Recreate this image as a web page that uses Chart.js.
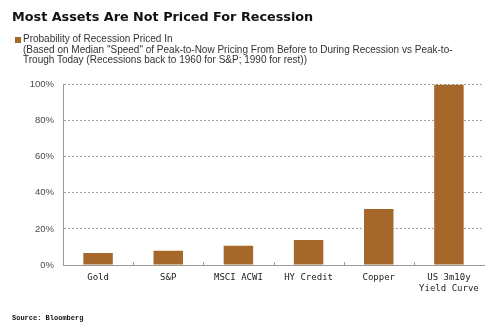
<!DOCTYPE html>
<html>
<head>
<meta charset="utf-8">
<script src="https://cdn.jsdelivr.net/npm/chart.js@4/dist/chart.umd.min.js"></script>
<style>
  html, body { margin: 0; padding: 0; background: #fff; }
  #wrap { position: relative; width: 500px; height: 333px; overflow: hidden; }
  #chart { position: absolute; left: 0; top: 0; }
  .title { position: absolute; left: 12px; top: 9px; font: bold 12.8px "DejaVu Sans", sans-serif; color: #111; white-space: nowrap; }
  .legend { position: absolute; left: 15px; top: 34px; font: 10px "Liberation Sans", sans-serif; color: #333; line-height: 10.6px; }
  .legend .sw { position: absolute; left: 0; top: 3px; width: 6px; height: 6px; background: #a5682a; }
  .legend .txt { margin-left: 8px; white-space: nowrap; }
  .source { position: absolute; left: 12px; top: 314px; font: bold 7px "Liberation Mono", monospace; color: #111; }
</style>
</head>
<body>
<div id="wrap">
  <canvas id="chart" width="500" height="333"></canvas>
  <div class="title">Most Assets Are Not Priced For Recession</div>
  <div class="legend"><span class="sw"></span><div class="txt">Probability of Recession Priced In<br>(Based on Median "Speed" of Peak-to-Now Pricing From Before to During Recession vs Peak-to-<br>Trough Today (Recessions back to 1960 for S&amp;P; 1990 for rest))</div></div>
  <div class="source">Source: Bloomberg</div>
</div>
<script>
// Assets and the share of a recession already priced into each (%)
const categories = ['Gold', 'S&P', 'MSCI ACWI', 'HY Credit', 'Copper', ['US 3m10y', 'Yield Curve']];
const pricedIn = [6.6, 7.9, 10.7, 13.9, 31.0, 100.0];
const yTicks = [0, 20, 40, 60, 80, 100];

// short upward tick marks on the x axis between categories
const categoryTicks = {
  id: 'categoryTicks',
  afterDraw(chart) {
    const x = chart.scales.x;
    const ctx = chart.ctx;
    const y0 = chart.chartArea.bottom;
    ctx.save();
    ctx.strokeStyle = '#9a9a9a';
    ctx.lineWidth = 1;
    for (let i = 1; i < categories.length; i++) {
      const px = Math.round((x.getPixelForValue(i - 1) + x.getPixelForValue(i)) / 2) + 0.5;
      ctx.beginPath();
      ctx.moveTo(px, y0);
      ctx.lineTo(px, y0 - 3);
      ctx.stroke();
    }
    ctx.restore();
  }
};

new Chart(document.getElementById('chart'), {
  type: 'bar',
  data: {
    labels: categories,
    datasets: [{
      label: 'Probability of Recession Priced In',
      data: pricedIn,
      backgroundColor: '#a5682a',
      borderWidth: 0,
      barPercentage: 0.42,
      categoryPercentage: 1.0
    }]
  },
  options: {
    responsive: false,
    animation: false,
    layout: { padding: { top: 84.5, right: 16, left: 0, bottom: 0 } },
    plugins: {
      legend: { display: false },
      title: { display: false },
      tooltip: { enabled: false }
    },
    scales: {
      x: {
        offset: true,
        grid: { display: false, drawTicks: false },
        border: { display: true, color: '#9a9a9a', width: 1 },
        ticks: {
          padding: 7,
          color: '#1a1a1a',
          font: { family: '"DejaVu Sans Mono", monospace', size: 9, lineHeight: 1.25 },
          maxRotation: 0,
          autoSkip: false
        },
        afterFit(scale) { scale.height = 68; }
      },
      y: {
        min: 0,
        max: 100,
        afterBuildTicks(scale) { scale.ticks = yTicks.map(v => ({ value: v })); },
        grid: {
          drawTicks: false,
          color: ctx => ctx.tick && ctx.tick.value === 0 ? 'rgba(0,0,0,0)' : '#a0a0a0',
          lineWidth: 1
        },
        border: { display: true, color: '#9a9a9a', width: 1, dash: [2, 2] },
        ticks: {
          padding: 9,
          color: '#4a4a4a',
          font: { family: '"Liberation Sans", sans-serif', size: 9.5 },
          callback: v => v + '%'
        },
        afterFit(scale) { scale.width = 63; }
      }
    }
  },
  plugins: [categoryTicks]
});
</script>
</body>
</html>
